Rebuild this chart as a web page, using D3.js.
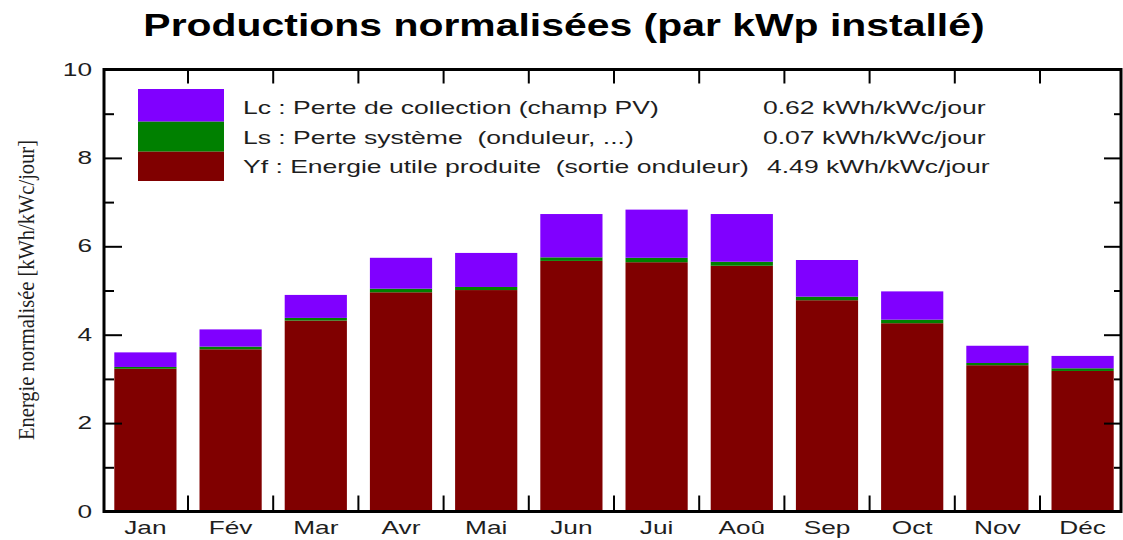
<!DOCTYPE html>
<html>
<head>
<meta charset="utf-8">
<script src="https://cdn.jsdelivr.net/npm/d3@7"></script>
<style>
  html, body { margin: 0; padding: 0; background: #fff; }
  svg { display: block; }
  text { font-family: "Liberation Sans", Arial, sans-serif; }
  .pre { white-space: pre; }
</style>
</head>
<body>
<svg id="chart" width="1123" height="540"></svg>
<script>
// Monthly normalised yields (kWh/kWc/jour)
const months = ["Jan", "Fév", "Mar", "Avr", "Mai", "Jun", "Jui", "Aoû", "Sep", "Oct", "Nov", "Déc"];
const yf = [3.23, 3.67, 4.32, 4.96, 5.01, 5.67, 5.64, 5.56, 4.78, 4.26, 3.31, 3.18]; // énergie utile
const ls = [0.04, 0.06, 0.06, 0.08, 0.07, 0.08, 0.10, 0.09, 0.08, 0.08, 0.05, 0.06]; // perte système
const lc = [0.33, 0.39, 0.52, 0.70, 0.77, 0.98, 1.09, 1.08, 0.83, 0.64, 0.39, 0.28]; // perte collection

const yTicks = [0, 2, 4, 6, 8, 10];
const yMinorTicks = [1, 3, 5, 7, 9];

const legendLabels = [
  "Lc : Perte de collection (champ PV)",
  "Ls : Perte système  (onduleur, ...)",
  "Yf : Energie utile produite  (sortie onduleur)"
];
const legendValues = ["0.62 kWh/kWc/jour", "0.07 kWh/kWc/jour", "4.49 kWh/kWc/jour"];

const title = "Productions normalisées (par kWp installé)";
const yTitle = "Energie normalisée [kWh/kWc/jour]";

const colors = { lc: "#8000ff", ls: "#008000", yf: "#800000" };

// ---- layout
const svg = d3.select("#chart");
const frame = { left: 104, right: 1121, top: 69.5, bottom: 511.5 };
const stretch = 1.5;   // wide lettering

const x = d3.scaleBand()
  .domain(months)
  .range([102.8, 1125.2])
  .paddingInner(0.27)
  .paddingOuter(0.135);

const y = d3.scaleLinear().domain([0, 10]).range([frame.bottom, frame.top]);

const rows = months.map((m, i) => ({ month: m, yf: yf[i], ls: ls[i], lc: lc[i] }));
const keys = ["yf", "ls", "lc"];
const series = d3.stack().keys(keys)(rows);

// ---- bars
const plot = svg.append("g");
plot.selectAll("g.layer")
  .data(series)
  .join("g")
  .attr("class", "layer")
  .attr("fill", d => colors[d.key])
  .selectAll("rect")
  .data(d => d)
  .join("rect")
  .attr("x", d => x(d.data.month))
  .attr("width", x.bandwidth())
  .attr("y", d => y(d[1]))
  .attr("height", d => y(d[0]) - y(d[1]));

// ---- helper: widen text about its anchor
function widen(sel, s) {
  sel.each(function () {
    const t = d3.select(this);
    const tx = +t.attr("x") || 0;
    t.attr("transform", `translate(${tx},0) scale(${s},1) translate(${-tx},0)`);
  });
}

// ---- left axis (inward ticks)
const leftMajor = svg.append("g")
  .attr("transform", `translate(${frame.left},0)`)
  .call(d3.axisLeft(y).tickValues(yTicks).tickSizeInner(-18).tickSizeOuter(0).tickPadding(12).tickFormat(d3.format("d")));
const leftMinor = svg.append("g")
  .attr("transform", `translate(${frame.left},0)`)
  .call(d3.axisLeft(y).tickValues(yMinorTicks).tickSizeInner(-10).tickSizeOuter(0).tickFormat(""));

// ---- right axis (inward ticks)
const rightMajor = svg.append("g")
  .attr("transform", `translate(${frame.right},0)`)
  .call(d3.axisRight(y).tickValues(yTicks).tickSizeInner(-17).tickSizeOuter(0).tickFormat(""));
const rightMinor = svg.append("g")
  .attr("transform", `translate(${frame.right},0)`)
  .call(d3.axisRight(y).tickValues(yMinorTicks).tickSizeInner(-7).tickSizeOuter(0).tickFormat(""));

[leftMajor, leftMinor, rightMajor, rightMinor].forEach(g => {
  g.select(".domain").remove();
  g.selectAll(".tick line").attr("stroke", "#000").attr("stroke-width", 2);
});
leftMajor.selectAll("text")
  .attr("font-size", 17.5)
  .attr("fill", "#1e1e1e")
  .attr("font-family", "Liberation Sans, Arial, sans-serif");
widen(leftMajor.selectAll("text"), stretch);

// ---- month labels
const bottom = svg.append("g")
  .attr("transform", `translate(0,${frame.bottom})`)
  .call(d3.axisBottom(x).tickSize(0).tickPadding(10));
bottom.select(".domain").remove();
bottom.selectAll("text")
  .attr("font-size", 17.5)
  .attr("fill", "#1e1e1e")
  .attr("font-family", "Liberation Sans, Arial, sans-serif")
  .attr("dy", "0.71em");
widen(bottom.selectAll("text"), stretch);

// ---- month boundary ticks (top and bottom)
const gap = (x.step() - x.bandwidth()) / 2;
const bounds = months.slice(1).map(m => x(m) - gap);
svg.append("g").selectAll("line.bt")
  .data(bounds)
  .join("line")
  .attr("x1", d => d).attr("x2", d => d)
  .attr("y1", frame.bottom).attr("y2", frame.bottom - 16)
  .attr("stroke", "#000").attr("stroke-width", 2);
svg.append("g").selectAll("line.tt")
  .data(bounds)
  .join("line")
  .attr("x1", d => d).attr("x2", d => d)
  .attr("y1", frame.top).attr("y2", frame.top + 14)
  .attr("stroke", "#000").attr("stroke-width", 2);

// ---- frame
svg.append("rect")
  .attr("x", frame.left).attr("y", frame.top)
  .attr("width", frame.right - frame.left)
  .attr("height", frame.bottom - frame.top)
  .attr("fill", "none")
  .attr("stroke", "#000")
  .attr("stroke-width", 3);

// ---- legend
const legend = svg.append("g");
const swatches = [
  { key: "lc", y0: 89, y1: 121.7 },
  { key: "ls", y0: 121.7, y1: 151.7 },
  { key: "yf", y0: 151.7, y1: 181 }
];
legend.selectAll("rect")
  .data(swatches)
  .join("rect")
  .attr("x", 138).attr("width", 86)
  .attr("y", d => d.y0)
  .attr("height", d => d.y1 - d.y0)
  .attr("fill", d => colors[d.key]);

const rowY = [114.5, 144.5, 173.5];
const labelText = legend.selectAll("text.lab")
  .data(legendLabels)
  .join("text")
  .attr("class", "lab pre")
  .attr("x", 243)
  .attr("y", (d, i) => rowY[i])
  .attr("font-size", 17.7)
  .attr("fill", "#1e1e1e")
  .text(d => d);
widen(labelText, stretch);

const valueX = [763, 763, 767];
const valueText = legend.selectAll("text.val")
  .data(legendValues)
  .join("text")
  .attr("class", "val")
  .attr("x", (d, i) => valueX[i])
  .attr("y", (d, i) => rowY[i])
  .attr("font-size", 17.7)
  .attr("fill", "#1e1e1e")
  .text(d => d);
widen(valueText, stretch);

// ---- title
svg.append("text")
  .attr("x", 564).attr("y", 36)
  .attr("text-anchor", "middle")
  .attr("font-size", 31)
  .attr("font-weight", "bold")
  .attr("fill", "#000")
  .attr("transform", "translate(564,0) scale(1.32,1) translate(-564,0)")
  .text(title);

// ---- vertical axis title
svg.append("text")
  .attr("transform", "translate(34,290) scale(1.1,1) rotate(-90)")
  .attr("text-anchor", "middle")
  .attr("font-family", "Liberation Serif, 'Times New Roman', serif")
  .style("font-family", "'Liberation Serif', 'Times New Roman', serif")
  .attr("font-size", 20.5)
  .attr("fill", "#1e1e1e")
  .text(yTitle);
</script>
</body>
</html>
